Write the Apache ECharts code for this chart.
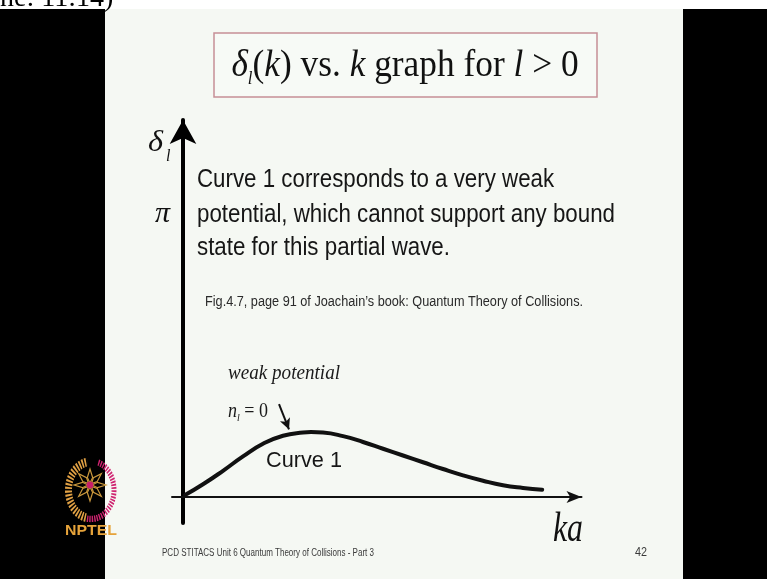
<!DOCTYPE html>
<html>
<head>
<meta charset="utf-8">
<script src="https://cdn.jsdelivr.net/npm/echarts@6/dist/echarts.min.js"></script>
<style>
  html, body { margin: 0; padding: 0; background: #f5f8f3; }
  #chart { width: 767px; height: 579px; }
</style>
</head>
<body>
<div id="chart"></div>
<script>
// Phase shift δ_l against ka for a weak potential (curve 1, n_l = 0)
const kaValues = [0.05, 0.5, 1.0, 1.5, 2.0, 2.5, 3.0, 3.2, 3.5, 4.0, 4.5, 5.0, 5.5, 6.0, 6.5, 7.0, 7.5, 8.0, 8.5, 8.98];
const deltaValues = [0.02, 0.14, 0.29, 0.45, 0.59, 0.68, 0.715, 0.72, 0.715, 0.675, 0.61, 0.535, 0.46, 0.385, 0.31, 0.24, 0.18, 0.13, 0.10, 0.08];
const yTickValues = [Math.PI];
const yTickLabels = ['π'];

const bodyLines = [
  'Curve 1 corresponds to a very weak',
  'potential, which cannot support any bound',
  'state for this partial wave.'
];
const captionText = 'Fig.4.7, page 91 of Joachain\u2019s book: Quantum Theory of Collisions.';
const footerText = 'PCD STITACS Unit 6 Quantum Theory of Collisions - Part 3';

const SERIF = '"Liberation Serif", "Times New Roman", serif';
const SANS = '"Liberation Sans", Arial, sans-serif';

// horizontal squeeze so a string spans a given pixel width
const measureCtx = document.createElement('canvas').getContext('2d');
function fitScale(text, font, width) {
  measureCtx.font = font;
  return width / measureCtx.measureText(text).width;
}

function plainText(text, x, y, o) {
  const font = (o.style || 'normal') + ' ' + (o.weight || 'normal') + ' ' + o.size + 'px ' + o.family;
  const sx = o.width ? fitScale(text, font, o.width) : (o.scaleX || 1);
  return {
    type: 'text', x: x, y: y, scaleX: sx, z: o.z || 5,
    style: {
      text: text, x: 0, y: 0,
      fontFamily: o.family, fontSize: o.size, fontStyle: o.style || 'normal',
      fontWeight: o.weight || 'normal', fill: o.color || '#111',
      align: o.align || 'left', verticalAlign: 'middle'
    }
  };
}

const bodyFont = 'normal normal 25px ' + SANS;
const bodyScale = fitScale(bodyLines[1], bodyFont, 418);

// logo petals around the centre
const petals = [];
for (let i = 0; i < 8; i++) {
  const a = i * Math.PI / 4 - Math.PI / 2;
  const pt = (r, da) => [r * Math.cos(a + da), r * Math.sin(a + da)];
  petals.push({
    type: 'polygon', z: 7,
    shape: { points: [pt(2, 0), pt(8, 0.34), pt(16, 0), pt(8, -0.34)] },
    style: { fill: null, stroke: '#c9973c', lineWidth: 1.2 }
  });
}

const graphic = [
  // frame around the slide
  { type: 'rect', z: 1, shape: { x: 0, y: 0, width: 767, height: 9 }, style: { fill: '#ffffff' } },
  plainText('ne: 11:14)', 0, -1, { family: SERIF, size: 28, color: '#000' }),
  { type: 'rect', z: 6, shape: { x: 0, y: 9, width: 105, height: 570 }, style: { fill: '#000' } },
  { type: 'rect', z: 6, shape: { x: 683, y: 9, width: 84, height: 570 }, style: { fill: '#000' } },

  // title box
  { type: 'rect', z: 4, shape: { x: 214, y: 33, width: 383, height: 64 },
    style: { fill: 'rgba(255,255,255,0.25)', stroke: '#c68f96', lineWidth: 1.5 } },
  {
    type: 'text', x: 405, y: 66, scaleX: 0.93, z: 5,
    style: {
      x: 0, y: 0, align: 'center', verticalAlign: 'middle',
      text: '{i|δ}{s|l}{n|(}{i|k}{n|) vs. }{i|k}{n| graph for }{i|l}{n| > 0}',
      rich: {
        n: { fontFamily: SERIF, fontSize: 38, fill: '#111', lineHeight: 44 },
        i: { fontFamily: SERIF, fontSize: 38, fontStyle: 'italic', fill: '#111', lineHeight: 44 },
        s: { fontFamily: SERIF, fontSize: 18, fontStyle: 'italic', fill: '#111', lineHeight: 44, verticalAlign: 'bottom', padding: [16, 0, 0, 0] }
      }
    }
  },

  // body text and reference
  ...bodyLines.map((t, i) => plainText(t, 197, [180, 215, 248][i], { family: SANS, size: 25, color: '#161616', scaleX: bodyScale })),
  plainText(captionText, 205, 302, { family: SANS, size: 14, color: '#2a2a2a', width: 378 }),

  // axis name δ_l
  plainText('δ', 148, 143, { family: SERIF, size: 29, style: 'italic', color: '#111', width: 15 }),
  plainText('l', 166, 157, { family: SERIF, size: 16, style: 'italic', color: '#111' }),
  // axis name ka
  plainText('ka', 553, 530, { family: SERIF, size: 43, style: 'italic', color: '#111', width: 30 }),

  // annotations on the curve
  plainText('weak potential', 228, 374, { family: SERIF, size: 20, style: 'italic', color: '#1a1a1a', width: 112 }),
  {
    type: 'text', x: 228, y: 412, scaleX: 0.9, z: 5,
    style: {
      x: 0, y: 0, align: 'left', verticalAlign: 'middle',
      text: '{i|n}{s|l}{n| = 0}',
      rich: {
        n: { fontFamily: SERIF, fontSize: 20, fill: '#1a1a1a', lineHeight: 24 },
        i: { fontFamily: SERIF, fontSize: 20, fontStyle: 'italic', fill: '#1a1a1a', lineHeight: 24 },
        s: { fontFamily: SERIF, fontSize: 11, fontStyle: 'italic', fill: '#1a1a1a', lineHeight: 24, verticalAlign: 'bottom', padding: [9, 0, 0, 0] }
      }
    }
  },
  plainText('Curve 1', 266, 461, { family: SANS, size: 22, color: '#161616', width: 76 }),

  // footer
  plainText(footerText, 162, 553, { family: SANS, size: 10, color: '#3a3a3a', width: 212 }),
  plainText('42', 635, 552, { family: SANS, size: 13, color: '#3a3a3a', width: 12 }),

  // NPTEL logo
  {
    type: 'group', x: 91, y: 490, scaleY: 1.26, z: 7,
    children: [
      { type: 'arc', z: 7, shape: { cx: 0, cy: 0, r: 22.5, startAngle: 1.8, endAngle: 4.55, clockwise: true },
        style: { fill: null, stroke: '#e0a044', lineWidth: 7, lineDash: [1.6, 1.2] } },
      { type: 'arc', z: 7, shape: { cx: 0, cy: 0, r: 23, startAngle: -1.25, endAngle: 1.75, clockwise: true },
        style: { fill: null, stroke: '#cf2370', lineWidth: 5, lineDash: [1.4, 1.0] } }
    ]
  },
  { type: 'group', x: 90, y: 485, z: 7, children: petals.concat([
      { type: 'circle', z: 7, shape: { cx: 0, cy: 0, r: 3.4 }, style: { fill: '#c81e6a' } }
    ]) },
  plainText('NPTEL', 91, 531, { family: SANS, size: 15, weight: 'bold', color: '#e6a33a', width: 52, align: 'center', z: 8 })
];

const chart = echarts.init(document.getElementById('chart'), null, { renderer: 'canvas' });
chart.setOption({
  animation: false,
  backgroundColor: '#f5f8f3',
  grid: { left: 172, right: 185.5, top: 120, bottom: 56 },
  xAxis: {
    type: 'value', min: -0.275, max: 9.9625,
    axisLine: { onZero: true, symbol: ['none', 'arrow'], symbolSize: [9, 15], lineStyle: { color: '#111', width: 2 } },
    axisTick: { show: false }, axisLabel: { show: false }, splitLine: { show: false }
  },
  yAxis: {
    type: 'value', min: -0.29, max: 4.188,
    axisLine: { onZero: true, symbol: ['none', 'arrow'], symbolSize: [20, 24], lineStyle: { color: '#000', width: 4 } },
    axisTick: { show: false },
    axisLabel: {
      customValues: yTickValues,
      formatter: v => yTickLabels[yTickValues.indexOf(v)] || '',
      fontFamily: SERIF, fontStyle: 'italic', fontSize: 30, color: '#111', margin: 2
    },
    splitLine: { show: false }
  },
  series: [{
    type: 'line',
    data: kaValues.map((x, i) => [x, deltaValues[i]]),
    smooth: true,
    showSymbol: false,
    lineStyle: { color: '#111', width: 4, cap: 'round', join: 'round' },
    markLine: {
      silent: true,
      symbol: ['none', 'arrow'],
      symbolSize: [8, 11],
      label: { show: false },
      lineStyle: { color: '#111', width: 2, type: 'solid' },
      data: [[{ coord: [2.4, 1.03] }, { coord: [2.65, 0.75] }]]
    }
  }],
  graphic: graphic
});
</script>
</body>
</html>
